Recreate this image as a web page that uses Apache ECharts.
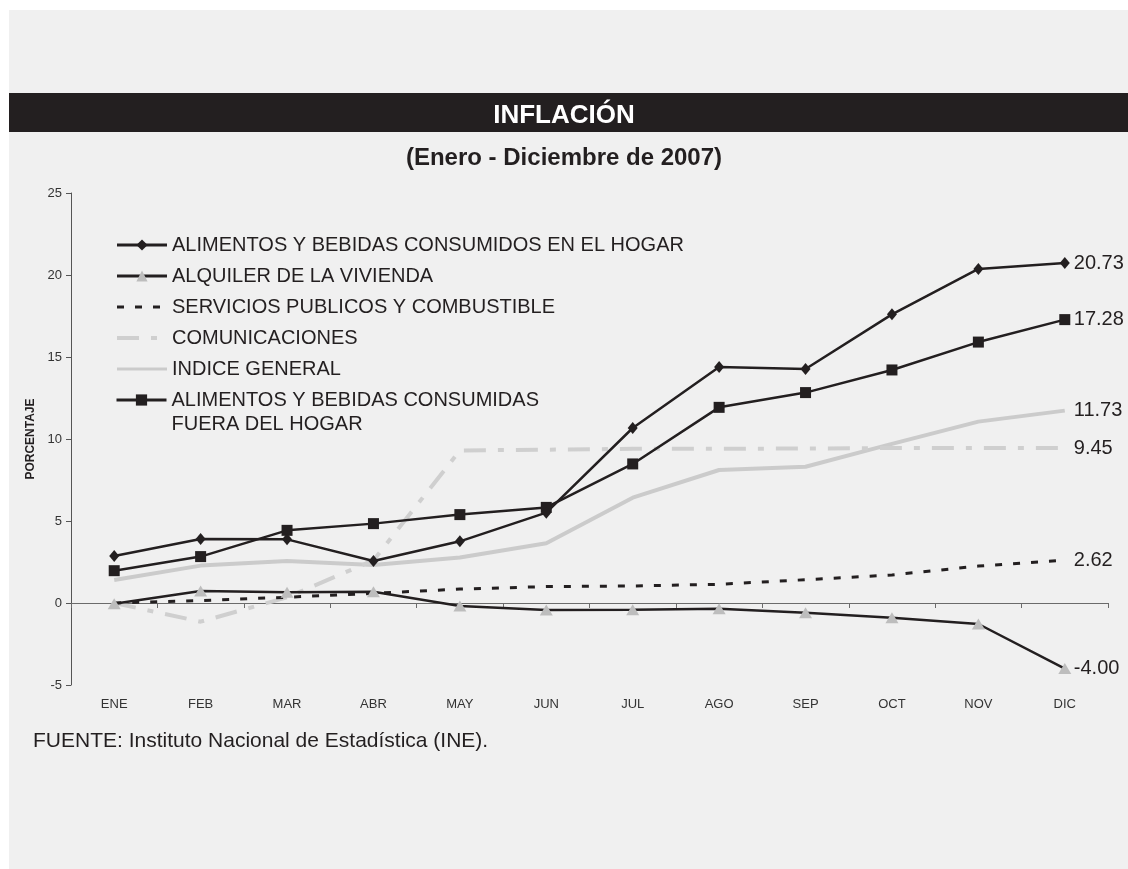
<!DOCTYPE html>
<html lang="es" style="height: 100%">
<head>
    <meta charset="UTF-8">
    <script src="https://cdn.jsdelivr.net/npm/echarts@6/dist/echarts.min.js"></script>
</head>
<body style="height: 100%; margin: 0; background: #ffffff">
<div id="container" style="width: 1128px; height: 869px"></div>
<script>
    // datos
    var meses = ['ENE', 'FEB', 'MAR', 'ABR', 'MAY', 'JUN', 'JUL', 'AGO', 'SEP', 'OCT', 'NOV', 'DIC'];

    var alimentosHogar = [2.87, 3.90, 3.88, 2.56, 3.76, 5.51, 10.67, 14.39, 14.27, 17.60, 20.37, 20.73];
    var alquiler = [-0.05, 0.73, 0.65, 0.69, -0.18, -0.43, -0.41, -0.35, -0.60, -0.90, -1.28, -4.00];
    var servicios = [0.00, 0.15, 0.35, 0.59, 0.85, 1.00, 1.04, 1.14, 1.42, 1.71, 2.25, 2.62];
    var comunicaciones = [0.00, -1.14, 0.35, 2.60, 9.30, 9.35, 9.40, 9.40, 9.42, 9.45, 9.45, 9.45];
    var indiceGeneral = [1.40, 2.28, 2.56, 2.32, 2.78, 3.64, 6.42, 8.11, 8.31, 9.70, 11.06, 11.73];
    var alimentosFuera = [1.97, 2.83, 4.43, 4.84, 5.39, 5.83, 8.48, 11.93, 12.83, 14.21, 15.91, 17.28];

    var nombres = [
        'ALIMENTOS Y BEBIDAS CONSUMIDOS EN EL HOGAR',
        'ALQUILER DE LA VIVIENDA',
        'SERVICIOS PUBLICOS Y COMBUSTIBLE',
        'COMUNICACIONES',
        'INDICE GENERAL',
        'ALIMENTOS Y BEBIDAS CONSUMIDAS\nFUERA DEL HOGAR'
    ];

    var negro = '#231f20';
    var fuente = "'Liberation Sans', Arial, sans-serif";

    var dom = document.getElementById("container");
    var myChart = echarts.init(dom);

    var etiquetaFinal = {
        show: true,
        distance: 9,
        fontSize: 20,
        fontFamily: fuente,
        color: negro,
        formatter: function (p) {
            return p.value.toFixed(2);
        }
    };

    // las series sin marcador no llevan simbolo en la leyenda
    var sinSimbolo = {opacity: 0};

    var option = {
        animation: false,
        textStyle: {fontFamily: fuente},
        graphic: [
            {type: 'rect', z: -10, shape: {x: 9, y: 10, width: 1119, height: 859}, style: {fill: '#f0f0f0'}},
            {type: 'rect', z: -5, shape: {x: 9, y: 93, width: 1119, height: 39}, style: {fill: negro}}
        ],
        title: [
            {
                text: 'INFLACIÓN',
                left: 'center',
                top: 103,
                padding: 0,
                textStyle: {color: '#ffffff', fontSize: 26, fontWeight: 'bold', fontFamily: fuente}
            },
            {
                text: '(Enero - Diciembre de 2007)',
                left: 'center',
                top: 146,
                padding: 0,
                textStyle: {color: negro, fontSize: 24, fontWeight: 'bold', fontFamily: fuente}
            },
            {
                text: 'FUENTE: Instituto Nacional de Estadística (INE).',
                left: 33,
                top: 731,
                padding: 0,
                textStyle: {color: negro, fontSize: 21, fontWeight: 'normal', fontFamily: fuente}
            }
        ],
        legend: [
            {
                data: [
                    {name: nombres[0], lineStyle: {width: 3}},
                    {name: nombres[1], lineStyle: {width: 3}},
                    {name: nombres[2], itemStyle: sinSimbolo, lineStyle: {width: 3}},
                    {name: nombres[3], itemStyle: sinSimbolo, lineStyle: {width: 4}},
                    {name: nombres[4], itemStyle: sinSimbolo, lineStyle: {width: 3}}
                ],
                orient: 'vertical',
                left: 115,
                top: 233,
                padding: 0,
                itemWidth: 50,
                itemHeight: 14,
                itemGap: 7,
                selectedMode: false,
                textStyle: {fontSize: 20, lineHeight: 24, color: negro}
            },
            {
                data: [{name: nombres[5], lineStyle: {width: 3}}],
                orient: 'vertical',
                left: 115,
                top: 364,
                padding: 0,
                itemWidth: 50,
                itemHeight: 14,
                selectedMode: false,
                // linea vacia arriba para que la primera linea quede junto al icono
                formatter: function (name) {
                    return '{e| }\n' + name;
                },
                textStyle: {
                    fontSize: 20, lineHeight: 24, color: negro,
                    rich: {e: {fontSize: 20, lineHeight: 24}}
                }
            }
        ],
        grid: {left: 71, right: 20, top: 193, bottom: 184},
        xAxis: [
            {
                type: 'category',
                data: meses,
                position: 'bottom',
                boundaryGap: true,
                axisLine: {show: false, onZero: false},
                axisTick: {show: false},
                axisLabel: {fontSize: 13, color: '#333', margin: 13}
            },
            {
                type: 'category',
                data: meses,
                position: 'bottom',
                boundaryGap: true,
                axisLine: {show: true, onZero: true, lineStyle: {color: '#6b6b6b', width: 1}},
                axisTick: {show: true, length: 5, lineStyle: {color: '#6b6b6b'}},
                axisLabel: {show: false}
            }
        ],
        yAxis: {
            type: 'value',
            min: -5,
            max: 25,
            interval: 5,
            name: 'PORCENTAJE',
            nameLocation: 'middle',
            nameGap: 34,
            nameTextStyle: {fontSize: 12, fontWeight: 'bold', color: negro},
            axisLine: {show: true, lineStyle: {color: '#555', width: 1}},
            axisTick: {show: true, length: 5, lineStyle: {color: '#555'}},
            splitLine: {show: false},
            axisLabel: {fontSize: 13, color: '#333', margin: 9}
        },
        series: [
            {
                name: nombres[4],
                type: 'line',
                data: indiceGeneral,
                symbol: 'none',
                lineStyle: {color: '#cbcbcb', width: 4},
                itemStyle: {color: '#cbcbcb'},
                endLabel: etiquetaFinal
            },
            {
                name: nombres[3],
                type: 'line',
                data: comunicaciones,
                symbol: 'none',
                lineStyle: {color: '#cfcfcf', width: 4, type: [22, 12, 6, 12]},
                itemStyle: {color: '#cfcfcf'},
                endLabel: etiquetaFinal
            },
            {
                name: nombres[2],
                type: 'line',
                data: servicios,
                symbol: 'none',
                lineStyle: {color: negro, width: 3, type: [7, 11]},
                itemStyle: {color: negro},
                endLabel: etiquetaFinal
            },
            {
                name: nombres[1],
                type: 'line',
                data: alquiler,
                symbol: 'triangle',
                symbolSize: [13, 11],
                lineStyle: {color: negro, width: 2.5},
                itemStyle: {color: '#bdbdbd'},
                endLabel: etiquetaFinal
            },
            {
                name: nombres[5],
                type: 'line',
                data: alimentosFuera,
                symbol: 'rect',
                symbolSize: 11,
                lineStyle: {color: negro, width: 2.5},
                itemStyle: {color: negro},
                endLabel: etiquetaFinal
            },
            {
                name: nombres[0],
                type: 'line',
                data: alimentosHogar,
                symbol: 'diamond',
                symbolSize: [10, 12],
                lineStyle: {color: negro, width: 2.5},
                itemStyle: {color: negro},
                endLabel: etiquetaFinal
            }
        ]
    };

    myChart.setOption(option);
</script>
</body>
</html>
